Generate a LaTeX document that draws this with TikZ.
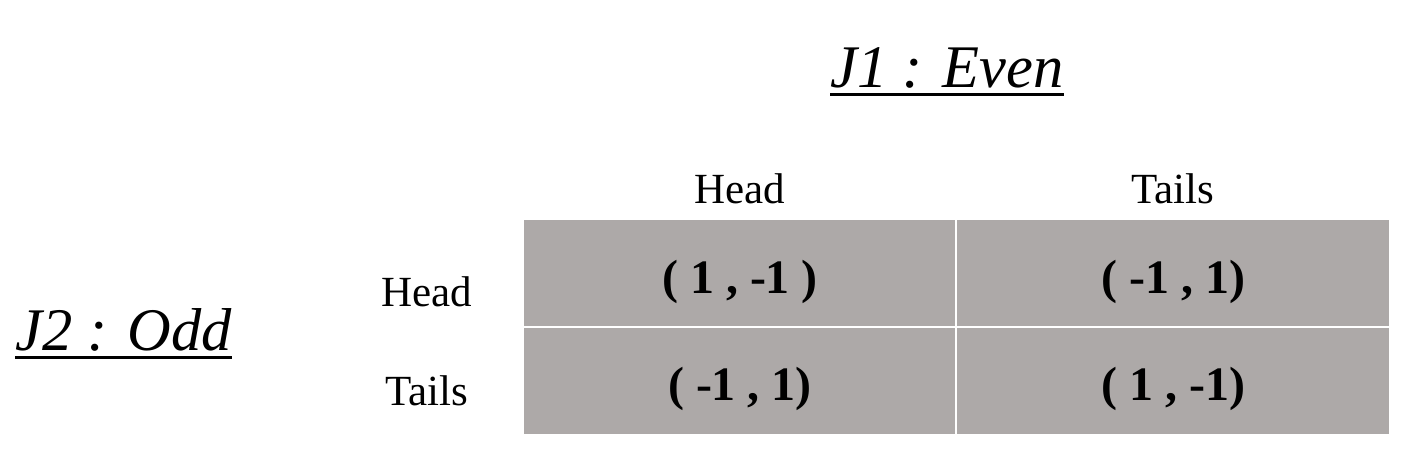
\documentclass[tikz,border=0pt]{standalone}
\usepackage{fontspec}
\setmainfont{Liberation Serif}
\definecolor{cellgray}{HTML}{ADA9A8}
\begin{document}
\begin{tikzpicture}[x=1pt,y=-1pt,
  cell/.style={draw=white, line width=2pt, fill=cellgray, minimum width=434pt, minimum height=108pt, inner sep=0pt, outer sep=0pt},
  lbl/.style={font=\fontsize{43}{50}\selectfont, inner sep=0pt, anchor=base},
  pay/.style={font=\fontsize{48}{56}\selectfont\bfseries, inner sep=0pt, anchor=base},
  player/.style={font=\fontsize{60.5}{70}\selectfont\itshape, inner sep=0pt, anchor=base west},
  uline/.style={line width=3.5pt}]
\useasboundingbox (0,0) rectangle (1422,474);
% cells
\node[cell] (c11) at (739.7,273) {};
\node[cell] (c12) at (1173.3,273) {};
\node[cell] (c21) at (739.7,381) {};
\node[cell] (c22) at (1173.3,381) {};
% payoffs
\node[pay] (p11) at (740,293) {( 1 , -1 )};
\node[pay] (p12) at (1173,293) {( -1 , 1)};
\node[pay] (p21) at (740,400) {( -1 , 1)};
\node[pay] (p22) at (1173,400) {( 1 , -1)};
% headers
\node[lbl] (hc1) at (740,203) {Head};
\node[lbl] (hc2) at (1173,203) {Tails};
\node[lbl] (hr1) at (427,306) {Head};
\node[lbl] (hr2) at (427,405) {Tails};
% players
\node[player] (j1) at (830,87) {J1 : Even};
\node[player] (j2) at (15,350) {J2 : Odd};
\draw[uline] ([yshift=-7.5pt]j1.base west) -- ([yshift=-7.5pt]j1.base east);
\draw[uline] ([yshift=-7.5pt]j2.base west) -- ([yshift=-7.5pt]j2.base east);
\end{tikzpicture}
\end{document}
